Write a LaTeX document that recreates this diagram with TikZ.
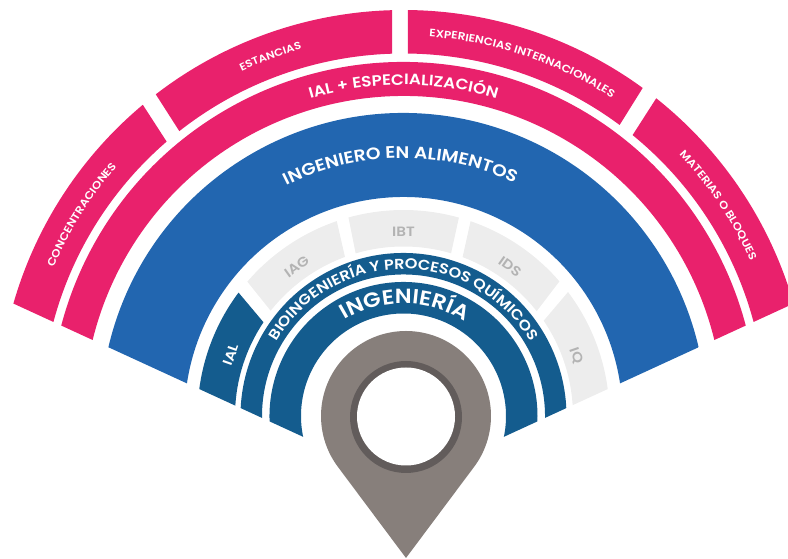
\documentclass[tikz,border=0pt]{standalone}
\usepackage{fontspec}
\setmainfont{Poppins}[FakeStretch=1.12,BoldFont={Poppins SemiBold}]
\usetikzlibrary{decorations.text}
\definecolor{rosa}{HTML}{E9216C}
\definecolor{azul}{HTML}{2266B0}
\definecolor{tealb}{HTML}{145C8E}
\definecolor{gris}{HTML}{EDEDED}
\definecolor{gristxt}{HTML}{B3B3B3}
\definecolor{pincol}{HTML}{877F7B}
\definecolor{pinring}{HTML}{625C5B}
% fill colour; outer angles a1 a2, outer radius; inner angles a3 (below a1) a4 (below a2), inner radius
\newcommand\segm[7]{\fill[#1] (#2:#4) arc[start angle=#2,end angle=#3,radius=#4] -- (#6:#7) arc[start angle=#6,end angle=#5,radius=#7] -- cycle;}
% radius, centre angle, half span, font size, text
\newcommand\arctext[5]{\path[decorate,decoration={text along path,text color=white,text align=center,
  text={|\fontsize{#4}{#4}\selectfont\bfseries|#5}}]
  ({#2+#3}:#1) arc[start angle={#2+#3},end angle={#2-#3},radius=#1];}
\tikzset{grislabel/.style={text=gristxt,font=\fontsize{13.5}{14}\selectfont\bfseries,inner sep=0pt},
 wlabel/.style={text=white,font=\fontsize{13.5}{14}\selectfont\bfseries,inner sep=0pt}}
\begin{document}
\begin{tikzpicture}[x=1pt,y=1pt]
\useasboundingbox (0,0) rectangle (788,559);
\clip (0,0) rectangle (788,559);
\begin{scope}[shift={(403.5,143)}]
\begin{scope}
\clip (0,-67) -- (-500,163) -- (-500,500) -- (500,500) -- (500,163) -- cycle;
% outer ring
\segm{rosa}{210}{129.95}{406}{210}{130.8}{362.5}
\segm{rosa}{127.6}{91.6}{406}{128.2}{91.8}{362.5}
\segm{rosa}{89.4}{53.9}{406}{89.3}{53.4}{362.5}
\segm{rosa}{51.5}{-30}{406}{50.8}{-30}{362.5}
% second ring and blue
\segm{rosa}{210}{-30}{354}{210}{-30}{320}
\segm{azul}{210}{-30}{303}{210}{-30}{219}
% grey ring
\segm{tealb}{210}{143.2}{206}{210}{146.2}{168.5}
\segm{gris}{139.3}{108.9}{206}{141.6}{110.2}{169.5}
\segm{gris}{105.5}{74.4}{206}{106.4}{73.7}{169.5}
\segm{gris}{71}{40.8}{206}{69.6}{38.2}{169.5}
\segm{gris}{37}{-30}{206}{34.2}{-30}{169.5}
% inner rings
\segm{tealb}{210}{-30}{163}{210}{-30}{141.5}
\segm{tealb}{210}{-30}{134}{210}{-30}{102.5}
\end{scope}
\arctext{380}{148}{30}{10.7}{CONCENTRACIONES}
\arctext{381}{110.3}{20}{10.4}{ESTANCIAS}
\arctext{380}{71.45}{30}{10.7}{EXPERIENCIAS INTERNACIONALES}
\arctext{380}{33.8}{25}{10.7}{MATERIAS O BLOQUES}
\arctext{331}{90}{40}{15}{IAL + ESPECIALIZACIÓN}
\arctext{258}{90.7}{40}{16.7}{INGENIERO EN ALIMENTOS}
\arctext{147}{90}{80}{14.4}{BIOINGENIERÍA Y PROCESOS QUÍMICOS}
\arctext{112.5}{89.3}{60}{20.5}{INGENIERÍA}
\node[wlabel,rotate=70.5] (ial) at (160.5:183) {IAL};
\node[grislabel,rotate=35.6] (iag) at (125.6:183.6) {IAG};
\node[grislabel] (ibt) at (90:184) {IBT};
\node[grislabel,rotate=-35.5] (ids) at (54.5:183.6) {IDS};
\node[grislabel,rotate=-70.8] (iq) at (19.2:183) {IQ};
\end{scope}
% pin
\begin{scope}[shift={(406,143)}]
\fill[pincol] (0,-142) -- (216.8:85) arc[start angle=216.8,end angle=-36.8,radius=85] -- cycle;
\fill[pinring] (0,-1) circle[radius=56];
\fill[white] (0,-0.5) circle[radius=49];
\end{scope}
\end{tikzpicture}
\end{document}
